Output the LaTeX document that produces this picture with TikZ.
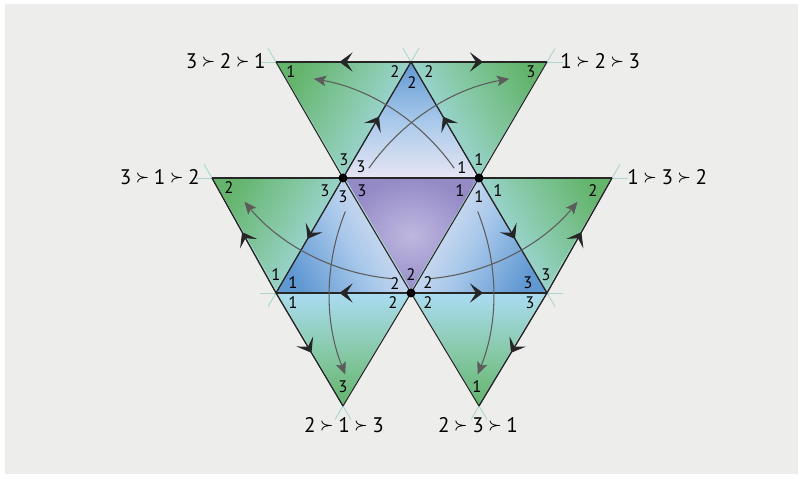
\documentclass[tikz,border=0pt]{standalone}
\usepackage{fontspec}
\setmainfont{PT Sans}
\usepackage{amsmath}
\usetikzlibrary{arrows.meta,decorations.markings}

\definecolor{bggray}{RGB}{237,238,236}
\definecolor{leafgreen}{RGB}{100,180,108}
\definecolor{seagreen}{RGB}{136,202,170}
\definecolor{skyblue}{RGB}{170,220,242}
\definecolor{deepblue}{RGB}{96,152,210}
\definecolor{midblue}{RGB}{168,200,234}
\definecolor{paleblue}{RGB}{230,229,243}
\definecolor{lilac}{RGB}{148,138,198}
\definecolor{palelilac}{RGB}{190,184,224}
\definecolor{faintteal}{RGB}{170,214,206}
\definecolor{arcgray}{RGB}{92,92,92}

\newcommand{\pref}{\hspace{0.22em}\raisebox{0.25ex}{\footnotesize$\boldsymbol{\succ}$}\hspace{0.22em}}

\tikzset{
  num/.style={font=\fontsize{9.5}{11}\selectfont, inner sep=0pt},
  order/.style={font=\fontsize{12}{14}\selectfont, inner sep=0pt},
  edge/.style={line width=0.6pt, black!85},
  guide/.style={line width=0.5pt, faintteal, shorten <=-9pt, shorten >=-9pt},
  flow/.style={postaction={decorate}, decoration={markings,
      mark=at position 0.53 with {\arrow{Stealth[length=7.5pt,width=11pt,inset=3.5pt]}}}},
  swing/.style={arcgray, line width=0.6pt, -{Stealth[length=7pt,width=6pt,inset=1.5pt]}},
  green/.style={top color=leafgreen, bottom color=skyblue, middle color=seagreen},
  blue/.style={top color=deepblue, bottom color=paleblue, middle color=midblue},
}

\begin{document}
\begin{tikzpicture}
    % background
    \fill[white] (0,0) rectangle (16.06,9.56);
    \fill[bggray] (0.1,0.08) rectangle (15.96,9.48);

    % vertices
    \coordinate (A1) at (5.52,8.32);
    \coordinate (A2) at (8.22,8.32);
    \coordinate (A3) at (10.94,8.32);
    \coordinate (B0) at (4.24,6.00);
    \coordinate (B1) at (6.86,6.00);
    \coordinate (B2) at (9.58,6.00);
    \coordinate (B3) at (12.24,6.00);
    \coordinate (C1) at (5.52,3.70);
    \coordinate (C2) at (8.22,3.70);
    \coordinate (C3) at (10.94,3.70);
    \coordinate (D1) at (6.86,1.44);
    \coordinate (D2) at (9.58,1.44);

    % faces
    \shade[green, shading angle=60] (A1)--(A2)--(B1)--cycle;
    \shade[green, shading angle=-60] (A2)--(A3)--(B2)--cycle;
    \shade[green, shading angle=60] (B0)--(B1)--(C1)--cycle;
    \shade[green, shading angle=-60] (B2)--(B3)--(C3)--cycle;
    \shade[green, shading angle=180] (C1)--(C2)--(D1)--cycle;
    \shade[green, shading angle=180] (C2)--(C3)--(D2)--cycle;
    \shade[blue] (A2)--(B1)--(B2)--cycle;
    \shade[blue, shading angle=120] (C1)--(B1)--(C2)--cycle;
    \shade[blue, shading angle=-120] (C3)--(B2)--(C2)--cycle;
    \shade[inner color=palelilac, outer color=lilac] (B1)--(B2)--(C2)--cycle;

    % faint guide lines
    \draw[guide] (A1)--(A3);
    \draw[guide] (B0)--(B3);
    \draw[guide] (C1)--(C3);
    \draw[guide] (A1)--(D2);
    \draw[guide] (A2)--(C3);
    \draw[guide] (B0)--(D1);
    \draw[guide] (A3)--(D1);
    \draw[guide] (A2)--(C1);
    \draw[guide] (B3)--(D2);

    % edges
    \draw[edge] (A1)--(A3);
    \draw[edge] (B0)--(B3);
    \draw[edge] (C1)--(C3);
    \draw[edge] (A1)--(B1)--(C2)--(D2);
    \draw[edge] (A2)--(B2)--(C3);
    \draw[edge] (B0)--(C1)--(D1);
    \draw[edge] (A3)--(B2)--(C2)--(D1);
    \draw[edge] (A2)--(B1)--(C1);
    \draw[edge] (B3)--(C3)--(D2);

    % direction marks
    \draw[edge,flow] (A2)--(A1);
    \draw[edge,flow] (A2)--(A3);
    \draw[edge,flow] (B1)--(A2);
    \draw[edge,flow] (B2)--(A2);
    \draw[edge,flow] (C1)--(B0);
    \draw[edge,flow] (B1)--(C1);
    \draw[edge,flow] (C2)--(C1);
    \draw[edge,flow] (C2)--(C3);
    \draw[edge,flow] (B2)--(C3);
    \draw[edge,flow] (C3)--(B3);
    \draw[edge,flow] (C1)--(D1);
    \draw[edge,flow] (C3)--(D2);

    % swings
    \draw[swing] ([shift={(35:4.35)}]C1) arc[start angle=35,end angle=80,radius=4.35];
    \draw[swing] ([shift={(145:4.35)}]C3) arc[start angle=145,end angle=100,radius=4.35];
    \draw[swing] ([shift={(265:4.35)}]A2) arc[start angle=265,end angle=220,radius=4.35];
    \draw[swing] ([shift={(275:4.35)}]A2) arc[start angle=275,end angle=320,radius=4.35];
    \draw[swing] ([shift={(158:4.35)}]C3) arc[start angle=158,end angle=202,radius=4.35];
    \draw[swing] ([shift={(22:4.35)}]C1) arc[start angle=22,end angle=-22,radius=4.35];

    % meeting points
    \fill (B1) circle (0.09);
    \fill (B2) circle (0.09);
    \fill (C2) circle (0.09);

    % corner numbers
    \foreach \x/\y/\t [count=\i] in {
        5.82/8.12/1, 7.90/8.12/2, 8.58/8.12/2, 8.24/7.90/2, 10.62/8.12/3,
        6.88/6.36/3, 7.22/6.22/3, 9.24/6.20/1, 9.58/6.36/1,
        4.58/5.80/2, 6.50/5.74/3, 7.24/5.74/3, 6.86/5.62/3,
        5.52/4.06/1, 5.86/3.90/1, 5.86/3.50/1, 7.90/3.88/2, 7.86/3.50/2,
        9.20/5.74/1, 9.58/5.62/1, 9.96/5.74/1, 11.86/5.74/2,
        10.92/4.06/3, 10.56/3.90/3, 10.60/3.50/3,
        8.56/3.90/2, 8.56/3.50/2, 8.22/4.06/2,
        6.86/1.82/3, 9.54/1.82/1}
      \node[num] (n\i) at (\x,\y) {\t};

    % rankings
    \node[order, anchor=east] (r321) at (5.32,8.34) {3\pref 2\pref 1};
    \node[order, anchor=west] (r123) at (11.20,8.34) {1\pref 2\pref 3};
    \node[order, anchor=east] (r312) at (4.00,6.02) {3\pref 1\pref 2};
    \node[order, anchor=west] (r132) at (12.54,6.02) {1\pref 3\pref 2};
    \node[order] (r213) at (6.88,1.06) {2\pref 1\pref 3};
    \node[order] (r231) at (9.56,1.06) {2\pref 3\pref 1};
\end{tikzpicture}
\end{document}
